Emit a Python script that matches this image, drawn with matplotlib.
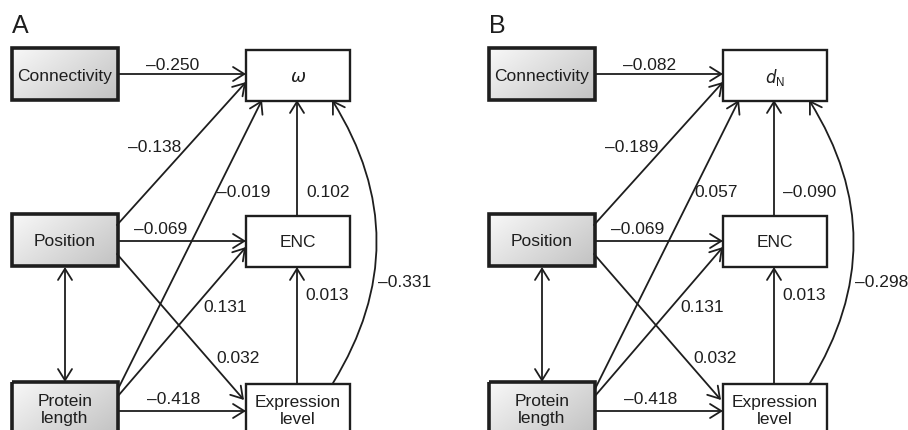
import numpy as np
import matplotlib.pyplot as plt
from matplotlib.patches import Rectangle
from matplotlib.colors import LinearSegmentedColormap

plt.rcParams['font.family'] = ['Liberation Sans', 'DejaVu Sans']

# path coefficients for the two models (omega and dN as response)
edges = ['conn_resp', 'pos_resp', 'len_resp', 'enc_resp', 'expr_resp',
         'pos_enc', 'len_enc', 'pos_expr', 'expr_enc', 'len_expr']
coef_omega = [-0.250, -0.138, -0.019, 0.102, -0.331,
              -0.069, 0.131, 0.032, 0.013, -0.418]
coef_dn = [-0.082, -0.189, 0.057, -0.090, -0.298,
           -0.069, 0.131, 0.032, 0.013, -0.418]
panels = ['A', 'B']
responses = [r'$\omega$', r'$d_{\mathregular{N}}$']

# layout in pixels (panel A origin), y grows downward
box_w, box_h = 106, 52
left_x, right_x = 12, 246
row_y = [49, 215, 383]

# start, end, label position, label alignment, curvature
geom = {
    'conn_resp': ((118, 75), (246, 75), (173, 65), 'center', 0),
    'pos_resp': ((117, 226), (246, 83), (155, 148), 'center', 0),
    'len_resp': ((118, 390), (262, 101), (217, 193), 'left', 0),
    'enc_resp': ((297, 216), (297, 101), (306, 193), 'left', 0),
    'expr_resp': ((333, 384), (332, 101), (378, 283), 'left', 0.31),
    'pos_enc': ((118, 242), (246, 242), (161, 230), 'center', 0),
    'len_enc': ((118, 397), (246, 248), (225, 308), 'center', 0),
    'pos_expr': ((117, 255), (244, 401), (238, 359), 'center', 0),
    'expr_enc': ((297, 384), (297, 268), (327, 296), 'center', 0),
    'len_expr': ((118, 412), (246, 412), (174, 400), 'center', 0),
}

ink = '#1e1e1e'
grad_cmap = LinearSegmentedColormap.from_list('box', ['#f8f8f8', '#c2c2c2'])
gx, gy = np.meshgrid(np.linspace(0, 1, 64), np.linspace(0, 1, 64))
grad = 0.6 * gx + 0.4 * gy

fig = plt.figure(figsize=(9.08, 4.31), dpi=100)
ax = fig.add_axes([0, 0, 1, 1])
ax.set_xlim(0, 908)
ax.set_ylim(431, 0)
ax.axis('off')


def exog_box(x, y, text):
    rect = Rectangle((x, y), box_w, box_h, facecolor='none',
                     edgecolor=ink, lw=2.6, zorder=3)
    ax.add_patch(rect)
    im = ax.imshow(grad, cmap=grad_cmap, vmin=0, vmax=1, aspect='auto',
                   extent=(x, x + box_w, y + box_h, y), zorder=1,
                   interpolation='bilinear')
    im.set_clip_path(rect)
    ax.text(x + box_w / 2, y + box_h / 2 + 1, text, ha='center', va='center',
            fontsize=12.5, color=ink, linespacing=1.2, zorder=4)


def endo_box(x, y, text, size=12.5):
    ax.add_patch(Rectangle((x, y), box_w - 2, box_h - 1, facecolor='white',
                           edgecolor=ink, lw=1.7, zorder=3))
    ax.text(x + box_w / 2 - 1, y + box_h / 2, text, ha='center',
            va='center', fontsize=size, color=ink, linespacing=1.2, zorder=4)


def arrow(p0, p1, rad=0.0, style='->'):
    ax.annotate('', xy=p1, xytext=p0,
                arrowprops=dict(arrowstyle=style + ',head_length=0.45,head_width=0.28',
                                color=ink, lw=1.3, shrinkA=0, shrinkB=0,
                                mutation_scale=18,
                                connectionstyle=f'arc3,rad={rad}'),
                zorder=2)


for k, (name, coefs, resp) in enumerate(zip(panels, [coef_omega, coef_dn], responses)):
    dx = k * 477
    ax.text(12 + dx, 26, name, fontsize=18, color=ink, va='center', ha='left')

    exog_box(left_x + dx, row_y[0], 'Connectivity')
    exog_box(left_x + dx, row_y[1], 'Position')
    exog_box(left_x + dx, row_y[2], 'Protein\nlength')
    endo_box(right_x + dx, row_y[0] + 2, resp, size=13 if k == 0 else 12)
    endo_box(right_x + dx, row_y[1] + 2, 'ENC')
    endo_box(right_x + dx, row_y[2] + 2, 'Expression\nlevel')

    for e, c in zip(edges, coefs):
        p0, p1, lab, ha, rad = geom[e]
        arrow((p0[0] + dx, p0[1]), (p1[0] + dx, p1[1]), rad)
        txt = f'{c:.3f}'.replace('-', '\u2013')
        ax.text(lab[0] + dx, lab[1], txt, ha=ha, va='center',
                fontsize=12.5, color=ink, zorder=4)

    # correlation between the two exogenous variables
    arrow((65 + dx, 268), (65 + dx, 383), style='<->')

fig.savefig('out.png', dpi=100)
